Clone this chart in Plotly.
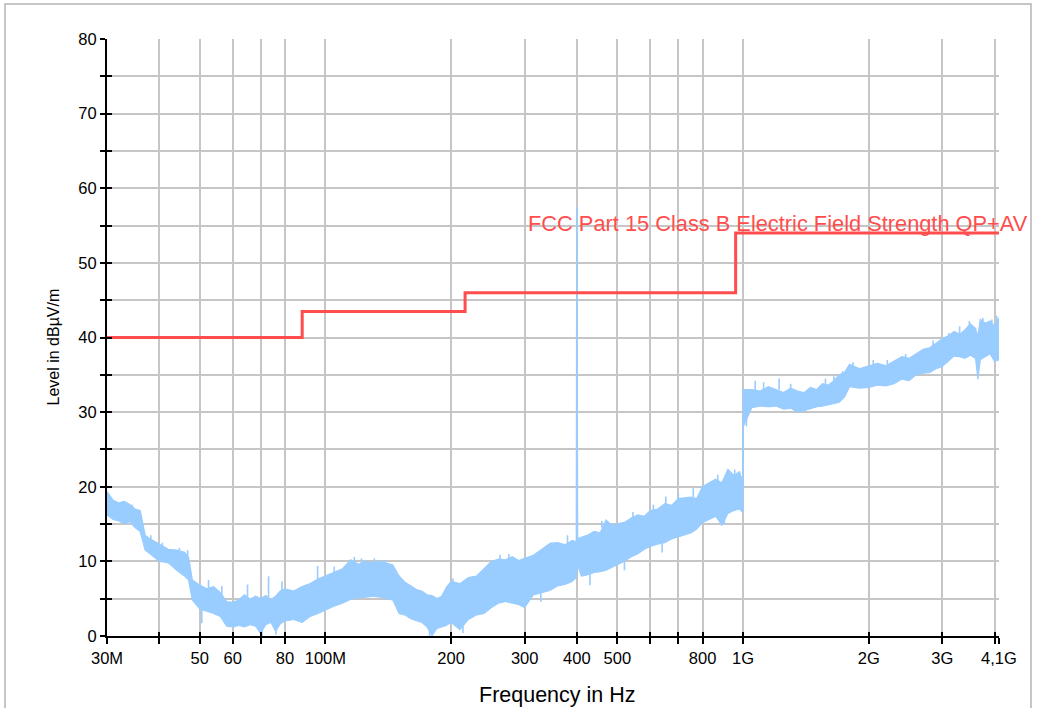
import plotly.graph_objects as go
import math

# ---------------- data ----------------
freq_mhz = [30, 31, 32, 33, 34, 35, 36, 37, 38, 39, 40, 42, 44, 46, 47, 48, 50, 52, 54, 56,
            58, 60, 62, 64, 66, 68, 70, 72, 74, 76, 78, 80, 84, 88, 92, 96, 100, 105, 110, 115,
            120, 125, 130, 135, 140, 145, 150, 155, 160, 165, 170, 175, 180, 185, 190, 195, 200,
            210, 220, 230, 240, 250, 260, 270, 280, 290, 300, 315, 330, 345, 360, 375, 390, 399,
            400, 400.5, 401.5, 410, 425, 440, 455, 470, 485, 500, 520, 540, 560, 580, 600, 625,
            650, 675, 700, 725, 750, 775, 800, 830, 860, 890, 920, 950, 980, 999, 1000, 1001,
            1050, 1100, 1150, 1200, 1250, 1300, 1350, 1400, 1450, 1500, 1550, 1600, 1650, 1700,
            1750, 1800, 1900, 2000, 2100, 2200, 2300, 2400, 2500, 2600, 2700, 2800, 2900, 3000,
            3100, 3200, 3300, 3400, 3500, 3600, 3650, 3700, 3800, 3900, 4000, 4100]

level_low = [16.2, 15.6, 15.4, 15.0, 15.3, 14.5, 14.0, 11.5, 11.0, 10.5, 10.0, 9.8, 8.8, 8.0, 7.5, 4.8, 3.6, 3.3, 3.0, 2.6,
             1.3, 1.2, 1.4, 1.2, 1.5, 1.3, 0.3, 1.5, 1.8, 0.6, 1.6, 2.0, 2.2, 1.8, 2.6, 3.0, 3.5, 4.0, 4.4, 4.9,
             5.1, 5.2, 5.3, 5.2, 5.0, 4.8, 3.0, 2.8, 2.3, 2.0, 1.8, 1.2, 0.0, 1.0, 1.2, 1.4, 1.8,
             0.8, 2.2, 2.8, 3.0, 3.8, 4.4, 4.6, 4.4, 4.2, 3.8, 5.5, 5.8, 6.1, 6.7, 6.9, 7.3, 7.8,
             8.5, 9.0, 9.5, 8.0, 8.2, 8.5, 8.6, 8.8, 9.2, 9.6, 10.0, 10.6, 11.0, 11.6, 12.0, 12.3,
             12.5, 13.0, 13.3, 13.6, 13.8, 14.3, 15.2, 15.6, 16.0, 14.8, 16.4, 16.8, 17.0, 16.5, 16.5, 28.0,
             30.6, 30.8, 30.7, 30.8, 30.4, 30.5, 30.0, 30.2, 30.5, 30.7, 30.8, 31.0, 31.2, 31.3,
             32.0, 33.4, 33.2, 33.3, 33.6, 33.5, 33.8, 34.4, 34.2, 35.0, 35.2, 35.3, 35.8, 36.1,
             36.8, 37.5, 37.4, 37.2, 37.6, 37.2, 34.4, 37.0, 37.4, 37.8, 36.8, 37.0]

level_high = [19.3, 18.2, 17.8, 18.0, 17.6, 17.0, 16.8, 13.5, 13.0, 12.6, 12.3, 11.6, 11.5, 11.2, 10.5, 7.5, 6.8, 6.3, 6.6, 5.8,
              4.6, 4.5, 4.8, 5.5, 4.9, 5.3, 5.0, 5.4, 4.8, 5.3, 6.0, 6.3, 6.0, 6.6, 7.0, 7.6, 8.0, 8.5, 9.0, 10.2,
              9.6, 10.0, 9.8, 10.0, 9.7, 9.5, 8.0, 7.2, 6.7, 6.2, 6.0, 5.5, 5.4, 5.0, 5.3, 6.5, 7.3,
              7.0, 7.8, 8.0, 9.0, 10.0, 10.3, 10.2, 10.6, 10.1, 10.4, 10.8, 11.6, 12.4, 12.5, 12.2, 12.8, 12.6,
              57.5, 42.4, 13.0, 13.2, 13.5, 14.0, 13.8, 15.5, 14.8, 15.0, 15.2, 15.8, 16.2, 16.0, 16.8, 17.0,
              17.7, 17.5, 18.4, 18.5, 18.6, 18.4, 20.0, 20.5, 21.0, 20.5, 22.3, 21.5, 22.0, 20.5, 31.0, 33.0,
              33.0, 32.8, 33.4, 33.0, 32.6, 33.2, 32.8, 32.6, 33.3, 33.0, 33.8, 33.6, 34.2, 35.0,
              35.3, 36.4, 35.8, 36.2, 36.5, 36.2, 36.8, 37.4, 37.2, 37.8, 38.4, 38.6, 39.2, 39.8,
              40.2, 40.8, 40.4, 41.0, 41.8, 41.2, 40.0, 42.4, 41.9, 42.2, 41.5, 42.6]

# isolated noise strokes sticking out of the band (frequency, band edge, tip)
spike_mhz = [32.65, 34.5, 38.2, 40.7, 44.7, 46.8, 50.6, 52.5, 56.5, 65.1, 70.5, 73.1, 76.1, 78.7,
             95.8, 105, 112, 117.3, 122, 131, 139, 150.5, 177.6, 202, 213.5, 247.4, 262, 275,
             301, 328, 347, 380, 430, 459, 497, 520, 545, 610, 640, 653, 700, 760, 820, 870,
             902, 955, 1019, 1069, 1120, 1220, 1300, 1406, 1575, 1650, 1732, 1833, 2050, 2215,
             2450, 2624, 2850, 3112, 3300, 3483, 3750, 3941, 4050]
spike_base = [17.0, 16.5, 12.5, 11.5, 10.8, 10.5, 3.5, 5.5, 5.0, 4.5, 1.5, 5.0, 1.8, 5.5,
              7.0, 8.5, 8.5, 9.0, 9.6, 9.5, 9.7, 7.5, 1.2, 6.5, 1.8, 9.0, 10.3, 10.2,
              4.2, 5.8, 11.5, 12.3, 8.3, 14.5, 14.0, 10.0, 15.8, 16.8, 12.4, 17.0, 18.4, 18.6, 19.5, 20.8,
              16.5, 21.0, 30.6, 32.8, 32.9, 33.0, 33.0, 30.5, 33.5, 34.2, 34.8, 35.8, 36.2, 36.2,
              37.2, 37.5, 38.9, 40.0, 40.4, 41.2, 41.9, 41.8, 41.6]
spike_tip = [18.1, 17.6, 13.5, 12.5, 11.8, 11.5, 1.7, 7.5, 6.7, 6.9, -0.5, 8.0, 0.2, 7.3,
             9.4, 9.3, 9.5, 10.6, 10.4, 10.4, 10.2, 8.1, -0.5, 7.7, 0.4, 9.8, 10.9, 11.0,
             4.4, 4.6, 12.5, 13.5, 6.8, 15.4, 14.9, 8.8, 16.6, 17.6, 11.2, 18.7, 19.0, 19.8, 20.4, 21.6,
             15.0, 22.3, 28.1, 34.2, 34.0, 34.5, 33.8, 29.9, 34.5, 34.8, 35.5, 36.7, 37.0, 37.0,
             37.8, 37.9, 39.6, 40.6, 41.5, 42.2, 42.6, 42.4, 42.9]

limit_mhz = [30, 88, 216, 960, 4100]
limit_level = [40, 43.5, 46, 54, 54]
limit_label = "FCC Part 15 Class B Electric Field Strength QP+AV"

x_tick_mhz = [30, 40, 50, 60, 70, 80, 100, 200, 300, 400, 500, 600, 700, 800,
              1000, 2000, 3000, 4000, 4100]
x_tick_text = ["30M", "", "50", "60", "", "80", "100M", "200", "300", "400", "500", "", "", "800",
               "1G", "2G", "3G", "", "4,1G"]
y_tick_vals = [0, 5, 10, 15, 20, 25, 30, 35, 40, 45, 50, 55, 60, 65, 70, 75, 80]
y_tick_text = ["0", "", "10", "", "20", "", "30", "", "40", "", "50", "", "60", "", "70", "", "80"]

# ---------------- figure ----------------
FONT = "Liberation Sans, Arial, sans-serif"
TRACE_C = "#99ccff"
LIMIT_C = "#ff4d4d"

hz = lambda arr: [v * 1e6 for v in arr]

spike_x, spike_y = [], []
for f, b, t in zip(spike_mhz, spike_base, spike_tip):
    spike_x += [f * 1e6, f * 1e6, None]
    spike_y += [b, t, None]

fig = go.Figure()
fig.add_trace(go.Scatter(x=hz(freq_mhz), y=level_low, mode="lines",
                         line=dict(color=TRACE_C, width=1), hoverinfo="skip", showlegend=False))
fig.add_trace(go.Scatter(x=hz(freq_mhz), y=level_high, mode="lines", fill="tonexty",
                         fillcolor=TRACE_C, line=dict(color=TRACE_C, width=1.5),
                         showlegend=False))
fig.add_trace(go.Scatter(x=spike_x, y=spike_y, mode="lines", connectgaps=False,
                         line=dict(color=TRACE_C, width=1.6), hoverinfo="skip",
                         showlegend=False))
fig.add_trace(go.Scatter(x=hz(limit_mhz), y=limit_level, mode="lines", line_shape="hv",
                         line=dict(color=LIMIT_C, width=3), showlegend=False,
                         xaxis="x2", yaxis="y2"))

xr = [math.log10(30e6), math.log10(4.1e9)]
yr = [0, 80]

common_x = dict(type="log", range=xr, tickvals=hz(x_tick_mhz))
common_y = dict(range=yr, tickvals=y_tick_vals)

fig.update_layout(
    width=1037, height=708,
    margin=dict(l=107, r=38, t=39, b=72),
    paper_bgcolor="white", plot_bgcolor="white",
    font=dict(family=FONT, color="black", size=16),
    xaxis=dict(**common_x, ticktext=x_tick_text, showgrid=True, gridcolor="#c6c6c6", gridwidth=1.5,
               showline=True, linecolor="black", linewidth=2, ticks="outside", ticklen=6,
               tickwidth=1.5, tickcolor="black", tickfont=dict(size=16.5), zeroline=False),
    yaxis=dict(**common_y, ticktext=y_tick_text, showgrid=True, gridcolor="#c6c6c6", gridwidth=1.5,
               showline=True, linecolor="black", linewidth=2, ticks="outside", ticklen=5,
               tickwidth=1.5, tickcolor="black", tickfont=dict(size=16.5), zeroline=False),
    xaxis2=dict(**common_x, overlaying="x", side="bottom", showgrid=False, showticklabels=False,
                ticks="inside", ticklen=4, tickwidth=1.5, tickcolor="black", showline=False,
                zeroline=False),
    yaxis2=dict(**common_y, overlaying="y", side="left", showgrid=False, showticklabels=False,
                ticks="inside", ticklen=5, tickwidth=1.5, tickcolor="black", showline=False,
                zeroline=False),
)

fig.add_annotation(x=math.log10(303e6), y=55.3, xref="x", yref="y", text=limit_label,
                   showarrow=False, xanchor="left", yanchor="middle",
                   font=dict(family=FONT, size=21.8, color=LIMIT_C))
fig.add_annotation(x=(557 - 107) / 892, y=(636 - 695) / 596, xref="paper", yref="paper",
                   text="Frequency in Hz", showarrow=False, xanchor="center", yanchor="middle",
                   font=dict(family=FONT, size=21.5, color="black"))
fig.add_annotation(x=(54 - 107) / 892, y=(636 - 348) / 596, xref="paper", yref="paper",
                   text="Level in dBµV/m", textangle=-90, showarrow=False,
                   xanchor="center", yanchor="middle",
                   font=dict(family=FONT, size=16, color="black"))

fig.add_shape(type="rect", xref="paper", yref="paper",
              x0=(5 - 107) / 892, x1=(1031 - 107) / 892,
              y0=(636 - 712) / 596, y1=(636 - 5) / 596,
              line=dict(color="#b4b4b4", width=1.5), layer="below")

fig.write_html("out.html", config={"displayModeBar": False},
               post_script="document.body.style.margin='0px';")
